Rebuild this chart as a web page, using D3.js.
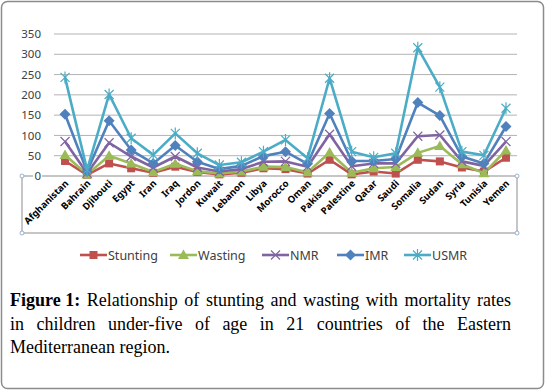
<!DOCTYPE html>
<html>
<head>
<meta charset="utf-8">
<script src="https://d3js.org/d3.v7.min.js"></script>
<title>Stunting, wasting and mortality rates</title>
<style>
body { margin: 0; background: #fff; }
svg { display: block; }
</style>
</head>
<body>
<svg width="547" height="392"></svg>
<script>

// data
let countries = ["Afghanistan", "Bahrain", "Djibouti", "Egypt", "Iran", "Iraq", "Jordon", "Kuwait",
  "Lebanon", "Libya", "Morocco", "Oman", "Pakistan", "Palestine", "Qatar", "Saudi", "Somalia",
  "Sudan", "Syria", "Tunisia", "Yemen"];
let stunting = [37, 3, 31, 19, 8, 23, 10, 4, 8, 19, 17, 6, 40, 4, 11, 6, 40, 36, 21, 11, 45];
let wasting  = [52, 4, 50, 31, 10, 30, 12, 6, 11, 23, 22, 9, 58, 8, 19, 22, 57, 74, 29, 7, 63];
let nmr      = [85, 7, 82, 48, 21, 48, 21, 11, 17, 35, 36, 23, 103, 24, 31, 31, 98, 101, 36, 25, 85];
let imr      = [152, 11, 136, 64, 31, 75, 35, 17, 25, 49, 60, 30, 154, 37, 37, 42, 181, 149, 48, 31, 122];
let usmr     = [243, 15, 201, 93, 52, 105, 56, 27, 34, 60, 89, 44, 241, 60, 46, 56, 316, 219, 60, 51, 167];
let yTicks = [0, 50, 100, 150, 200, 250, 300, 350];
let seriesNames = ["Stunting", "Wasting", "NMR", "IMR", "USMR"];

let colors = ["#c0504d", "#9bbb59", "#8064a2", "#4f81bd", "#4bacc6"];
let allSeries = [stunting, wasting, nmr, imr, usmr];

let svg = d3.select("svg");

// outer frame
svg.append("rect")
  .attr("x", 1.5).attr("y", 1.5).attr("width", 542).attr("height", 387)
  .attr("rx", 6)
  .attr("fill", "#fff").attr("stroke", "#8c8c8c").attr("stroke-width", 1.5);

let x = d3.scaleBand().domain(countries).range([54, 517]);
let y = d3.scaleLinear().domain([0, 350]).range([176, 34]);
let cx = d => x(d) + x.bandwidth() / 2;

// gridlines
svg.append("g").selectAll("line").data(yTicks.slice(1)).enter().append("line")
  .attr("x1", 54).attr("x2", 517)
  .attr("y1", d => y(d)).attr("y2", d => y(d))
  .attr("stroke", "#b3b3b3").attr("stroke-width", 1);

// y axis labels
let yAxis = d3.axisLeft(y).tickValues(yTicks).tickSize(0).tickPadding(0);
let yg = svg.append("g").attr("transform", "translate(41,0)").call(yAxis);
yg.select(".domain").remove();
yg.selectAll("text")
  .attr("font-family", "Noto Sans").attr("font-size", 11.5).attr("fill", "#404040");

// category axis box (x axis + label area)
svg.append("path")
  .attr("d", "M22,176 H517 V233 H22 Z")
  .attr("fill", "none").attr("stroke", "#8c8c8c").attr("stroke-width", 1);
// hide the line behind the "0" label
svg.append("rect").attr("x", 33).attr("y", 170).attr("width", 9).attr("height", 12).attr("fill", "#fff");
yg.raise();
[[22, 176], [517, 176], [22, 233], [517, 233]].forEach(p => {
  svg.append("circle").attr("cx", p[0]).attr("cy", p[1]).attr("r", 2)
    .attr("fill", "#fff").attr("stroke", "#7f9fc6").attr("stroke-width", 0.8);
});

// x labels
svg.append("g").selectAll("text").data(countries).enter().append("text")
  .attr("transform", d => "translate(" + (cx(d) + 4) + ",184) rotate(-45)")
  .attr("text-anchor", "end")
  .attr("font-family", "Noto Sans").attr("font-weight", "bold").attr("font-size", 9.5)
  .attr("fill", "#000")
  .text(d => d);

// marker shapes
function marker(g, i, color) {
  if (i == 0) {
    g.append("rect").attr("x", -4).attr("y", -4).attr("width", 8).attr("height", 8).attr("fill", color);
  } else if (i == 1) {
    g.append("path").attr("d", "M0,-5.5 L5.5,4 L-5.5,4 Z").attr("fill", color);
  } else if (i == 2) {
    g.append("path").attr("d", "M-4.5,-4.5 L4.5,4.5 M-4.5,4.5 L4.5,-4.5")
      .attr("stroke", color).attr("stroke-width", 1.2).attr("fill", "none");
  } else if (i == 3) {
    g.append("path").attr("d", "M0,-5.5 L5.5,0 L0,5.5 L-5.5,0 Z").attr("fill", color);
  } else {
    g.append("path").attr("d", "M-4.5,-4.5 L4.5,4.5 M-4.5,4.5 L4.5,-4.5 M0,-6 V6")
      .attr("stroke", color).attr("stroke-width", 1.2).attr("fill", "none");
  }
}

let line = d3.line().x((d, i) => cx(countries[i])).y(d => y(d));

allSeries.forEach((vals, s) => {
  svg.append("path").datum(vals)
    .attr("d", line)
    .attr("fill", "none").attr("stroke", colors[s]).attr("stroke-width", 2.6)
    .attr("stroke-linejoin", "round");
  vals.forEach((v, i) => {
    let g = svg.append("g").attr("transform", "translate(" + cx(countries[i]) + "," + y(v) + ")");
    marker(g, s, colors[s]);
  });
});

// legend
let legendX = [80, 170, 262, 337, 404];
seriesNames.forEach((name, s) => {
  let lx = legendX[s];
  svg.append("line").attr("x1", lx).attr("x2", lx + 27).attr("y1", 255).attr("y2", 255)
    .attr("stroke", colors[s]).attr("stroke-width", 2.6);
  let g = svg.append("g").attr("transform", "translate(" + (lx + 13.5) + ",255)");
  marker(g, s, colors[s]);
  svg.append("text").attr("x", lx + 28).attr("y", 259.5)
    .attr("font-family", "Noto Sans").attr("font-size", 12.5).attr("fill", "#404040")
    .text(name);
});

// caption, justified word by word
let captionLines = [
  [["Figure 1:", true], "Relationship", "of", "stunting", "and", "wasting", "with", "mortality", "rates"],
  ["in", "children", "under-five", "of", "age", "in", "21", "countries", "of", "the", "Eastern"],
  ["Mediterranean", "region."]
];
let capLeft = 10, capRight = 511;
captionLines.forEach((words, li) => {
  let by = 306 + li * 23.5;
  let nodes = words.map(w => {
    let bold = Array.isArray(w);
    return svg.append("text")
      .attr("y", by)
      .attr("font-family", "Liberation Serif").attr("font-size", 18)
      .attr("font-weight", bold ? "bold" : "normal").attr("fill", "#000")
      .text(bold ? w[0] : w);
  });
  let widths = nodes.map(n => n.node().getComputedTextLength());
  let total = d3.sum(widths);
  let gap = li < captionLines.length - 1 ? (capRight - capLeft - total) / (words.length - 1) : 4.5;
  let px = capLeft;
  nodes.forEach((n, i) => {
    n.attr("x", px);
    px += widths[i] + gap;
  });
});

</script>
</body>
</html>
